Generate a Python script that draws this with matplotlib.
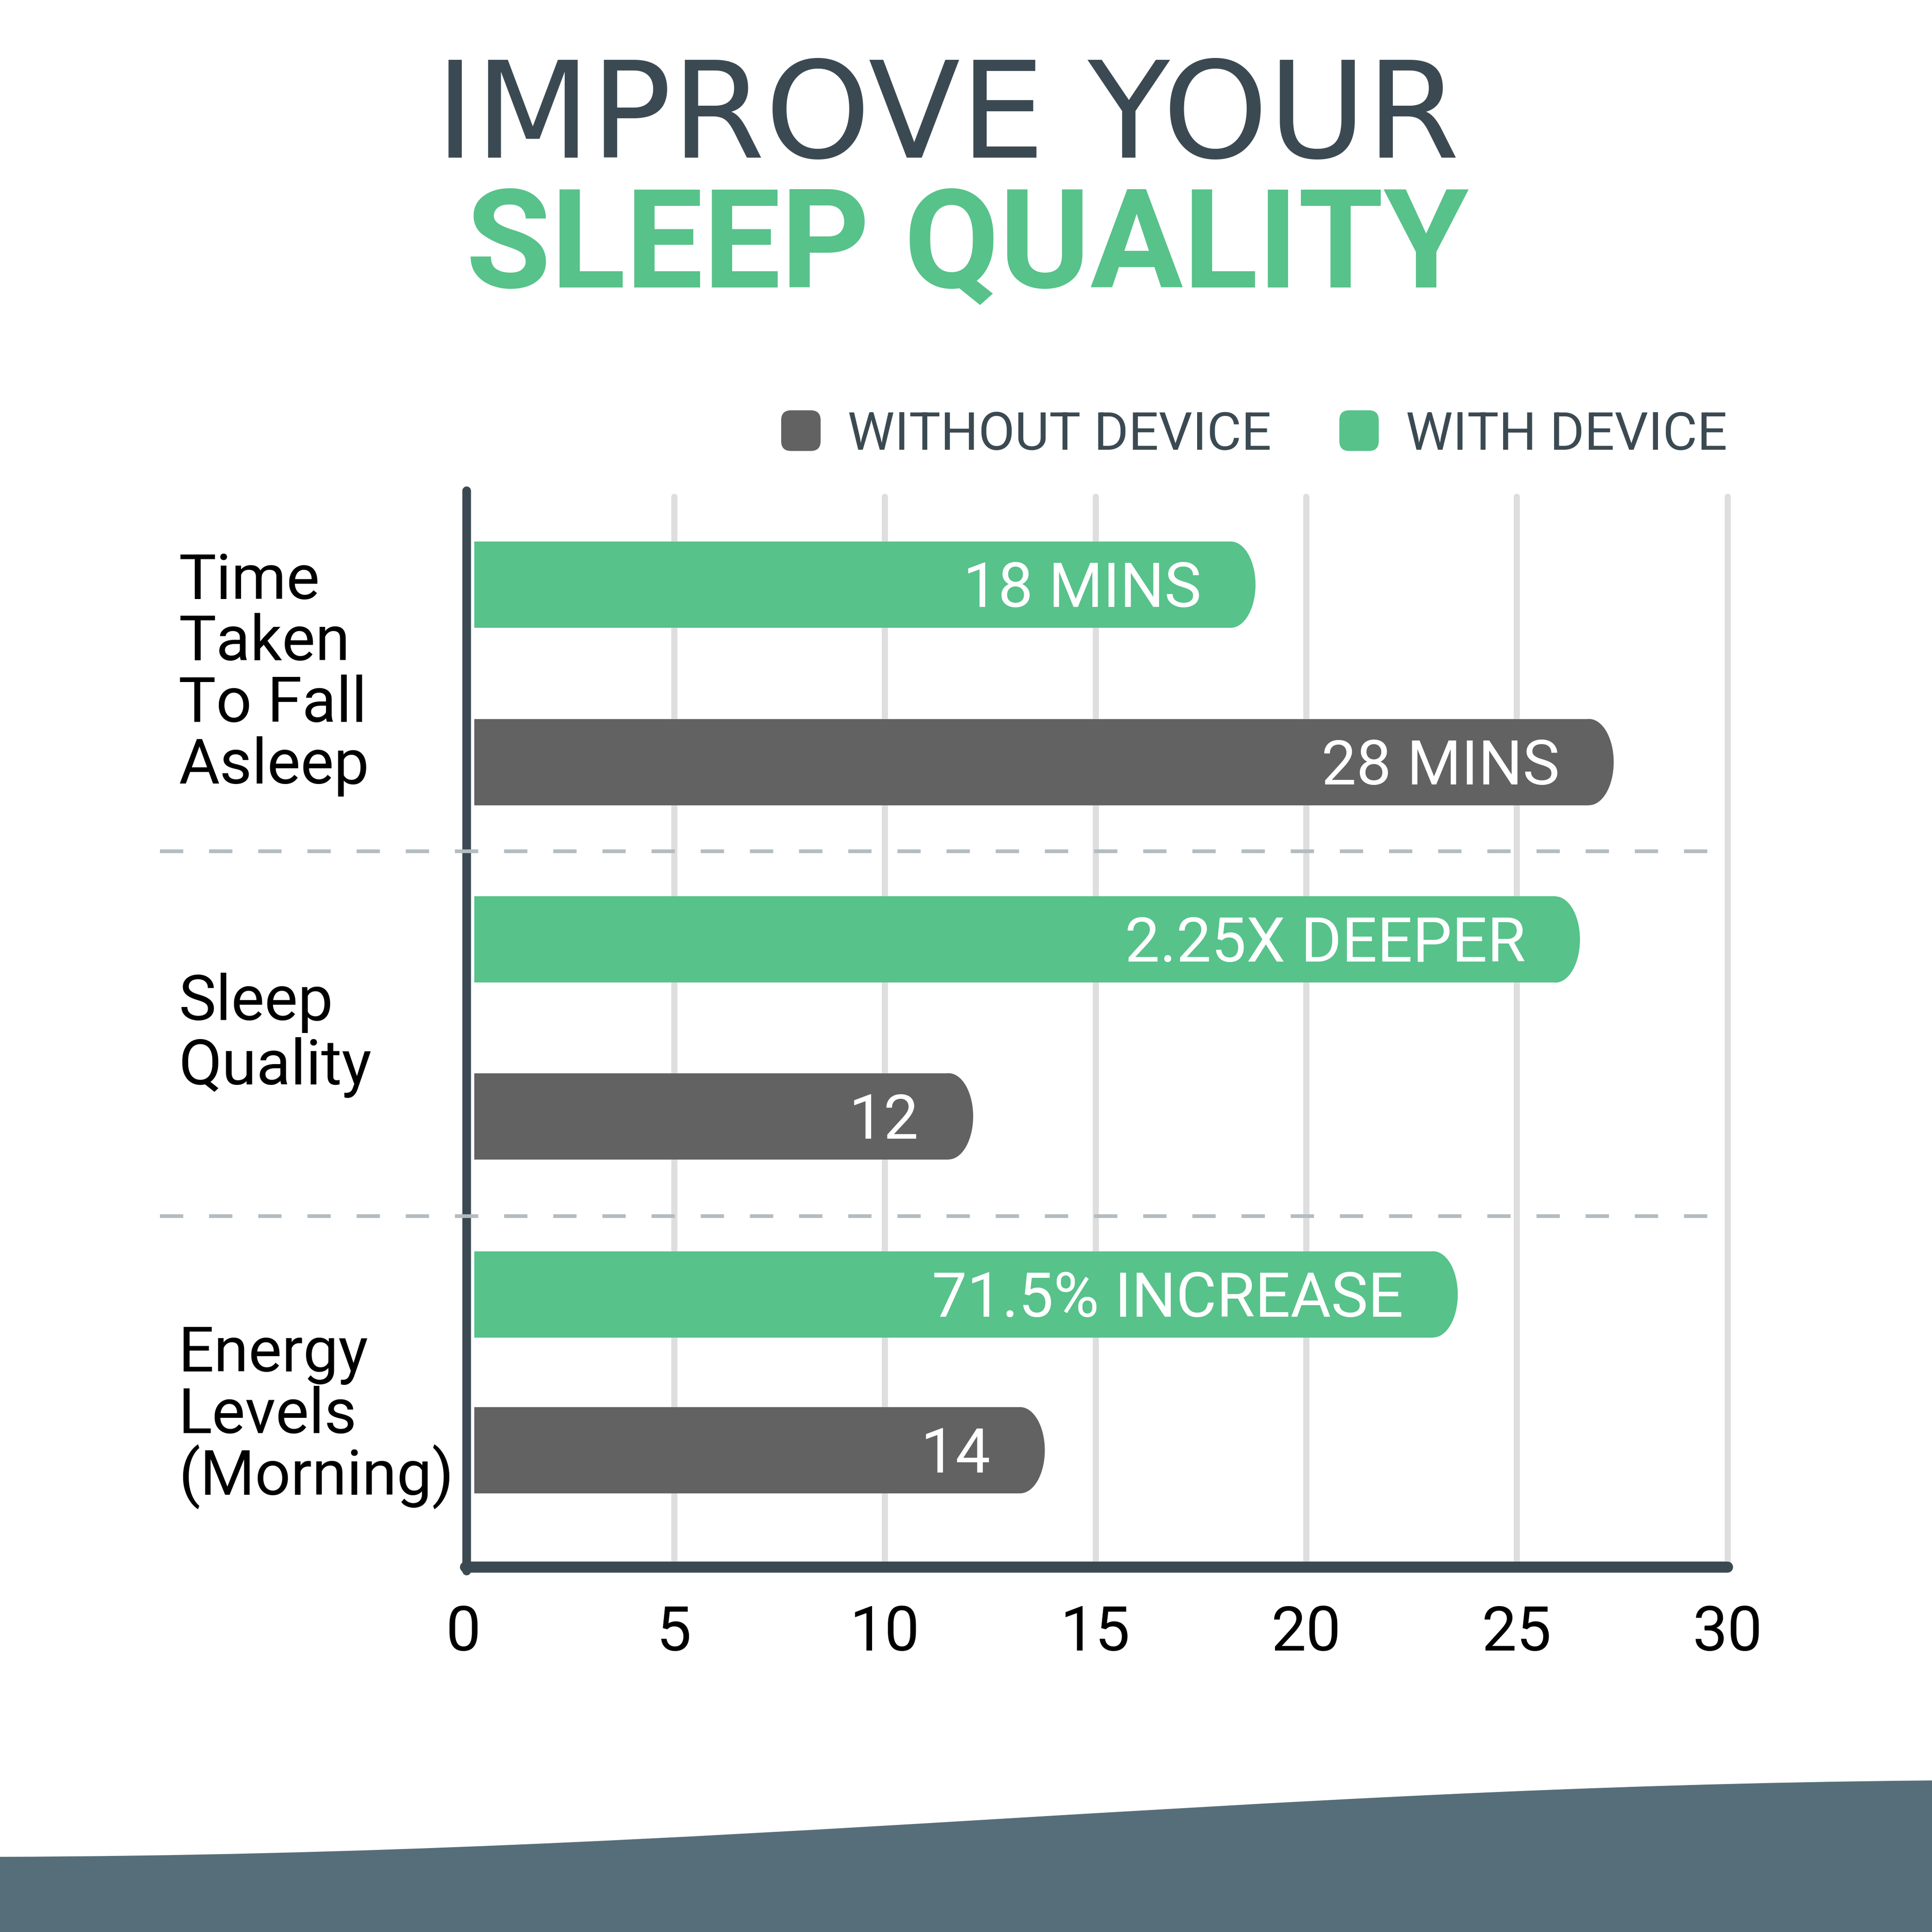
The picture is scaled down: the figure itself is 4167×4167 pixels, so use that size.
import matplotlib
matplotlib.use("Agg")
import matplotlib.pyplot as plt
from matplotlib.patches import Ellipse, FancyBboxPatch, PathPatch
from matplotlib.path import Path

# ---- data ----
categories = ["Time\nTaken\nTo Fall\nAsleep", "Sleep\nQuality", "Energy\nLevels\n(Morning)"]
series = ["WITHOUT DEVICE", "WITH DEVICE"]
without_device = [27.3, 12.1, 13.8]
with_device = [18.8, 26.5, 23.6]
without_labels = ["28 MINS", "12", "14"]
with_labels = ["18 MINS", "2.25X DEEPER", "71.5% INCREASE"]
x_ticks = [0, 5, 10, 15, 20, 25, 30]

# ---- style ----
GREEN = "#57c28a"
GRAY = "#626262"
DARK = "#3b4a52"
GRID = "#dedede"
SEP = "#b3bcc1"
WAVE = "#566e79"

W = 1568.0           # layout canvas (px)
S = 0.72             # pt per layout px
DPI = 4167 / 15.68

# layout positions (layout px, y downwards)
ax_left, ax_right, ax_top, ax_bottom = 376, 1402, 400, 1272
with_y = [474.5, 762.5, 1050.5]
without_y = [618.5, 906, 1177]
bar_h = 70
sep_y = [691, 987]
label_baselines = [[486, 536, 586, 636], [828, 880], [1113, 1163, 1213]]

plt.rcParams['font.family'] = ['Roboto', 'DejaVu Sans']

fig = plt.figure(figsize=(15.68, 15.68), dpi=DPI)
fig.patch.set_facecolor("white")

ax = fig.add_axes([ax_left / W, 1 - ax_bottom / W,
                   (ax_right - ax_left) / W, (ax_bottom - ax_top) / W])
ax.set_xlim(0, 30)
ax.set_ylim(ax_bottom, ax_top)
ax.set_facecolor("none")
for s in ax.spines.values():
    s.set_visible(False)
ax.set_yticks([])

# grid lines
for t in x_ticks[1:]:
    ax.plot([t, t], [ax_bottom, ax_top + 3], color=GRID, lw=5 * S,
            solid_capstyle="round", clip_on=False, zorder=1)

units_px = (ax_right - ax_left) / 30.0
cap_w = 20 / units_px
bar_x0 = 9 / units_px


def rounded_bar(value, yc, color):
    ax.barh(yc, value - cap_w - bar_x0, left=bar_x0, height=bar_h,
            color=color, zorder=3)
    ax.add_patch(Ellipse((value - cap_w, yc), 2 * cap_w, bar_h,
                         color=color, zorder=3, lw=0))


txt_off = 44 / units_px
for v, yc, lab in zip(with_device, with_y, with_labels):
    rounded_bar(v, yc, GREEN)
    ax.text(v - txt_off, yc + 18, lab, ha="right", va="baseline",
            color="white", fontsize=50.6 * S, zorder=4)
for v, yc, lab in zip(without_device, without_y, without_labels):
    rounded_bar(v, yc, GRAY)
    ax.text(v - txt_off, yc + 18, lab, ha="right", va="baseline",
            color="white", fontsize=50.6 * S, zorder=4)

# axis lines
ax.plot([0.07, 0.07], [ax_bottom + 3, ax_top - 2], color=DARK, lw=7 * S,
        solid_capstyle="round", clip_on=False, zorder=5)
ax.plot([0.05, 30], [ax_bottom, ax_bottom], color=DARK, lw=9 * S,
        solid_capstyle="round", clip_on=False, zorder=5)

ax.set_xticks(x_ticks)
ax.set_xticklabels([str(t) for t in x_ticks], fontsize=50.6 * S, color="black")
ax.tick_params(axis="x", length=0, pad=30 * S)

# ---- overlay for decoration ----
bg = fig.add_axes([0, 0, 1, 1], zorder=2)
bg.set_xlim(0, W)
bg.set_ylim(W, 0)
bg.axis("off")
bg.patch.set_alpha(0)

bg.text(769, 128, "IMPROVE YOUR", ha="center", va="baseline", color=DARK,
        fontsize=109 * S, family="DejaVu Sans")
bg.text(785, 233, "SLEEP QUALITY", ha="center", va="baseline", color=GREEN,
        fontsize=112 * S, fontweight="bold")

# legend
for (x0, col, name, tx) in [(634, GRAY, series[0], 688), (1087, GREEN, series[1], 1141)]:
    bg.add_patch(FancyBboxPatch((x0, 333), 32, 33,
                                boxstyle="round,pad=0,rounding_size=8",
                                color=col, lw=0))
    bg.text(tx, 365, name, ha="left", va="baseline", color=DARK,
            fontsize=43 * S)

# separators
for y in sep_y:
    bg.plot([130, 1404], [y, y], color=SEP, lw=3 * S, dashes=(6.3, 7))

# category labels
for cat, bases in zip(categories, label_baselines):
    for line, b in zip(cat.split("\n"), bases):
        bg.text(145, b, line, ha="left", va="baseline", color="black",
                fontsize=51 * S)

# bottom wave
verts = [(0, 1507), (600, 1505), (1000, 1450), (1568, 1445),
         (1568, 1568), (0, 1568), (0, 1507)]
codes = [Path.MOVETO, Path.CURVE4, Path.CURVE4, Path.CURVE4,
         Path.LINETO, Path.LINETO, Path.CLOSEPOLY]
bg.add_patch(PathPatch(Path(verts, codes), color=WAVE, lw=0))

fig.savefig("out.png", dpi=DPI, facecolor="white")
